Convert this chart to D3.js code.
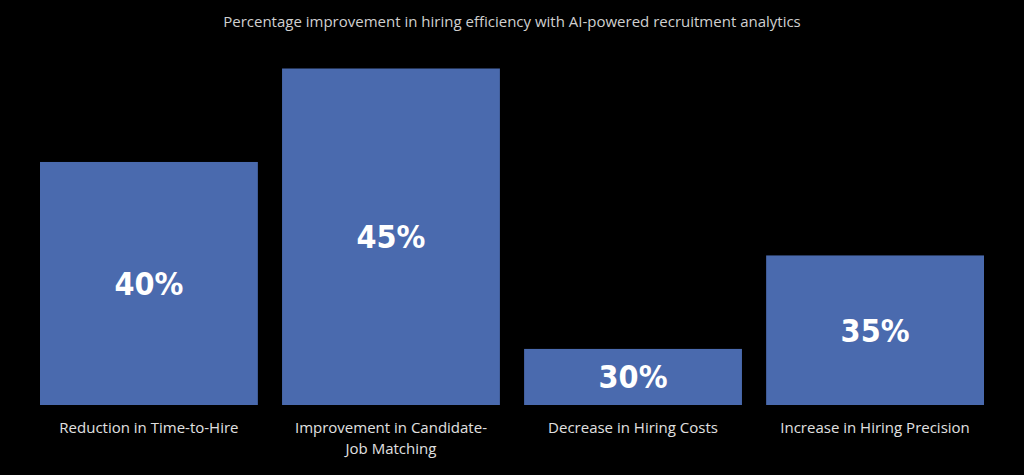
<!DOCTYPE html>
<html><head><meta charset="utf-8">
<script src="https://cdn.jsdelivr.net/npm/d3@7/dist/d3.min.js"></script>
<style>body{margin:0;background:#000}</style></head>
<body><svg id="c" width="1024" height="475"></svg>
<script>
const categories = ["Reduction in Time-to-Hire", "Improvement in Candidate-Job Matching", "Decrease in Hiring Costs", "Increase in Hiring Precision"];
const labelLines = [["Reduction in Time-to-Hire"], ["Improvement in Candidate-", "Job Matching"], ["Decrease in Hiring Costs"], ["Increase in Hiring Precision"]];
const values = [40, 45, 30, 35];
const title = "Percentage improvement in hiring efficiency with AI-powered recruitment analytics";

const svg = d3.select("#c");
svg.append("rect").attr("width",1024).attr("height",475).attr("fill","#000");
const x = d3.scaleBand().domain(categories).range([40,984]).paddingInner(0.1).paddingOuter(0);
const y = d3.scaleLinear().domain([27,45]).range([405,68.5]);

svg.append("text").attr("x",512).attr("y",27).attr("text-anchor","middle")
  .attr("fill","#d0d0d0").attr("font-family","Open Sans, sans-serif").attr("font-size",15).text(title);

svg.selectAll("rect.bar").data(values).join("rect").attr("class","bar")
  .attr("x",(d,i)=>x(categories[i])).attr("width",x.bandwidth())
  .attr("y",d=>y(d)).attr("height",d=>405-y(d)).attr("fill","#4a6aae");

svg.selectAll("text.val").data(values).join("text").attr("class","val")
  .attr("x",(d,i)=>x(categories[i])+x.bandwidth()/2)
  .attr("y",d=>(y(d)+405)/2).attr("dy","0.36em").attr("text-anchor","middle")
  .attr("fill","#fff").attr("font-family","Liberation Sans Narrow, DejaVu Sans Condensed, sans-serif")
  .attr("font-weight","bold").attr("font-size",32).text(d=>d+"%");

labelLines.forEach((lines,i)=>{
  const t = svg.append("text").attr("x",x(categories[i])+x.bandwidth()/2).attr("y",433)
    .attr("text-anchor","middle").attr("fill","#e0e0e0")
    .attr("font-family","Open Sans, sans-serif").attr("font-size",15);
  lines.forEach((l,j)=>t.append("tspan").attr("x",x(categories[i])+x.bandwidth()/2).attr("dy",j?21:0).text(l));
});
</script></body></html>
